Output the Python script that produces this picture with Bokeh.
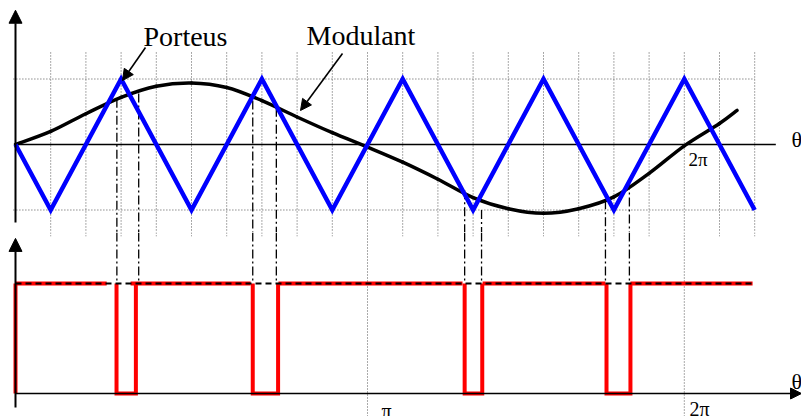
from bokeh.plotting import figure
from bokeh.layouts import column
from bokeh.models import Arrow, NormalHead, Range1d
from bokeh.embed import file_html
from bokeh.resources import INLINE
from bokeh.core.properties import value

# ---------------- data (x in grid steps, 0 = origin) ----------------
carrier_x = [0, 1, 3, 5, 7, 9, 11, 13, 15, 17, 19, 21]
carrier_y = [0, -1, 1, -1, 1, -1, 1, -1, 1, -1, 1, -1]

mod_x = [0, 1, 2, 3, 4, 5, 6, 7, 8, 9, 10, 11, 12, 13, 14, 15, 16, 17, 18, 19, 20, 20.5]
mod_y = [0, 0.2, 0.47, 0.72, 0.89, 0.94, 0.87, 0.67, 0.42, 0.18, -0.04, -0.27, -0.53,
         -0.81, -0.98, -1.05, -0.98, -0.80, -0.44, -0.02, 0.32, 0.52]

# PWM output: high level segments and low pulses
high_start = [0, 3.27, 7.47, 13.27, 17.47]
high_end = [2.59, 6.68, 12.70, 16.76, 20.94]
pulse_start = [2.87, 6.74, 12.76, 16.79]
pulse_end = [3.42, 7.46, 13.26, 17.47]

# intersection (switching) instants and the level at which they were read
cross_x = [2.88, 3.50, 6.74, 7.41, 12.76, 13.24, 16.76, 17.44]
cross_y = [0.70, 0.78, 0.67, 0.56, -0.70, -1.0, -0.85, -0.55]

grid_x = list(range(1, 22))
pi_x = 10
two_pi_x = 19

# ---------------- figures ----------------
xr = Range1d(-15 / 35.2, 786 / 35.2)

def make_fig(h, y0, y1):
    f = figure(width=801, height=h, x_range=xr, y_range=Range1d(y0, y1),
               output_backend="svg", toolbar_location=None,
               x_axis_location=None, y_axis_location=None, min_border=0,
               background_fill_color="white", border_fill_color="white")
    f.outline_line_color = None
    f.grid.visible = False
    return f

top = make_fig(232, -88 / 65.5, 144 / 65.5)
bot = make_fig(184, -23 / 110, 161 / 110)

grid_col = "#555555"
# dotted grid in the top panel
top.segment(x0=grid_x, y0=[1.405] * len(grid_x), x1=grid_x, y1=[-1.3435] * len(grid_x),
            line_color=grid_col, line_width=1, line_dash="1 2")
top.segment(x0=[-0.06, -0.06], y0=[1, -1], x1=[21, 21], y1=[1, -1],
            line_color=grid_col, line_width=1, line_dash="1 2")
# short continuation into the lower panel
short = [g for g in grid_x if g not in (pi_x, two_pi_x)]
bot.segment(x0=short, y0=[1.4636] * len(short), x1=short, y1=[1.43] * len(short),
            line_color=grid_col, line_width=1, line_dash="1 2")
bot.segment(x0=[pi_x, two_pi_x], y0=[1.4636, 1.4636], x1=[pi_x, two_pi_x], y1=[-0.21, -0.21],
            line_color=grid_col, line_width=1, line_dash="1 2")

# axes of the top panel
top.line([0, 21.6], [0, 0], line_color="black", line_width=1.6)
top.add_layout(Arrow(end=NormalHead(size=13, fill_color="black", line_color="black", line_width=1),
                     x_start=0, y_start=-1.19, x_end=0, y_end=2.05,
                     line_color="black", line_width=2))

# switching lines (dash-dot)
top.segment(x0=cross_x, y0=cross_y, x1=cross_x, y1=[-1.3435] * len(cross_x),
            line_color="black", line_width=1.3, line_dash="9 3 2 3")
bot.segment(x0=cross_x, y0=[1.4636] * len(cross_x), x1=cross_x, y1=[1] * len(cross_x),
            line_color="black", line_width=1.3, line_dash="9 3 2 3")

# modulant drawn as a smooth curve through the read points (Catmull-Rom -> Bezier)
n = len(mod_x)
bx0, by0, bx1, by1, bcx0, bcy0, bcx1, bcy1 = [], [], [], [], [], [], [], []
for i in range(n - 1):
    im, ip2 = max(i - 1, 0), min(i + 2, n - 1)
    bx0.append(mod_x[i]); by0.append(mod_y[i])
    bx1.append(mod_x[i + 1]); by1.append(mod_y[i + 1])
    bcx0.append(mod_x[i] + (mod_x[i + 1] - mod_x[im]) / 6)
    bcy0.append(mod_y[i] + (mod_y[i + 1] - mod_y[im]) / 6)
    bcx1.append(mod_x[i + 1] - (mod_x[ip2] - mod_x[i]) / 6)
    bcy1.append(mod_y[i + 1] - (mod_y[ip2] - mod_y[i]) / 6)
top.bezier(x0=bx0, y0=by0, x1=bx1, y1=by1, cx0=bcx0, cy0=bcy0, cx1=bcx1, cy1=bcy1,
           line_color="black", line_width=3.5, line_cap="round")
top.line(carrier_x, carrier_y, line_color="#0000ff", line_width=4.5, line_join="miter")

# labels and pointer arrows
serif = value("Liberation Serif")
top.text(x=[(143 - 15) / 35.2, (306 - 15) / 35.2], y=[(144 - 35.5) / 65.5, (144 - 34.5) / 65.5],
         text=["Porteus", "Modulant"], text_font=serif, text_font_size=value("28px"),
         text_baseline="alphabetic", text_align="left", text_color="black")
top.add_layout(Arrow(end=NormalHead(size=11, fill_color="black", line_color="black", line_width=1),
                     x_start=(145 - 15) / 35.2, y_start=(144 - 47) / 65.5,
                     x_end=(122 - 15) / 35.2, y_end=(144 - 80) / 65.5,
                     line_color="black", line_width=1.6))
top.add_layout(Arrow(end=NormalHead(size=11, fill_color="black", line_color="black", line_width=1),
                     x_start=(342 - 15) / 35.2, y_start=(144 - 53) / 65.5,
                     x_end=(300 - 15) / 35.2, y_end=(144 - 110) / 65.5,
                     line_color="black", line_width=1.6))
top.text(x=[(791 - 15) / 35.2], y=[(144 - 138.5) / 65.5], text=["θ"], text_font=serif,
         text_font_size=value("22px"), text_baseline="alphabetic", text_align="left")
top.text(x=[(688 - 15) / 35.2], y=[(144 - 158.5) / 65.5], text=["2π"], text_font=serif,
         text_font_size=value("19px"), text_baseline="alphabetic", text_align="left")

# bottom panel: PWM signal
bot.segment(x0=[0], y0=[0], x1=[0], y1=[1], line_color="#ff0000", line_width=4)
bot.segment(x0=high_start, y0=[1] * len(high_start), x1=high_end, y1=[1] * len(high_end),
            line_color="#ff0000", line_width=4)
bot.multi_line(xs=[[a, a, b, b] for a, b in zip(pulse_start, pulse_end)],
               ys=[[1, 0, 0, 1] for _ in pulse_start],
               line_color="#ff0000", line_width=4, line_join="miter")
bot.line([0, 21], [1, 1], line_color="black", line_width=2, line_dash="6 4")

bot.add_layout(Arrow(end=NormalHead(size=13, fill_color="black", line_color="black", line_width=1),
                     x_start=0, y_start=-0.127, x_end=0, y_end=1.41,
                     line_color="black", line_width=2))
bot.add_layout(Arrow(end=NormalHead(size=11, fill_color="black", line_color="black", line_width=1),
                     x_start=0, y_start=0, x_end=22.33, y_end=0,
                     line_color="black", line_width=1.6))
bot.text(x=[(791 - 15) / 35.2], y=[(161 - 148.5) / 110], text=["θ"], text_font=serif,
         text_font_size=value("22px"), text_baseline="alphabetic", text_align="left")
bot.text(x=[(381 - 15) / 35.2, (689 - 15) / 35.2], y=[(161 - 178) / 110, (161 - 176.7) / 110],
         text=["π", "2π"], text_font=serif, text_font_size=value("20px"),
         text_baseline="alphabetic", text_align="left")

layout = column(top, bot, spacing=0)
open("out.html", "w").write(file_html(layout, INLINE))
